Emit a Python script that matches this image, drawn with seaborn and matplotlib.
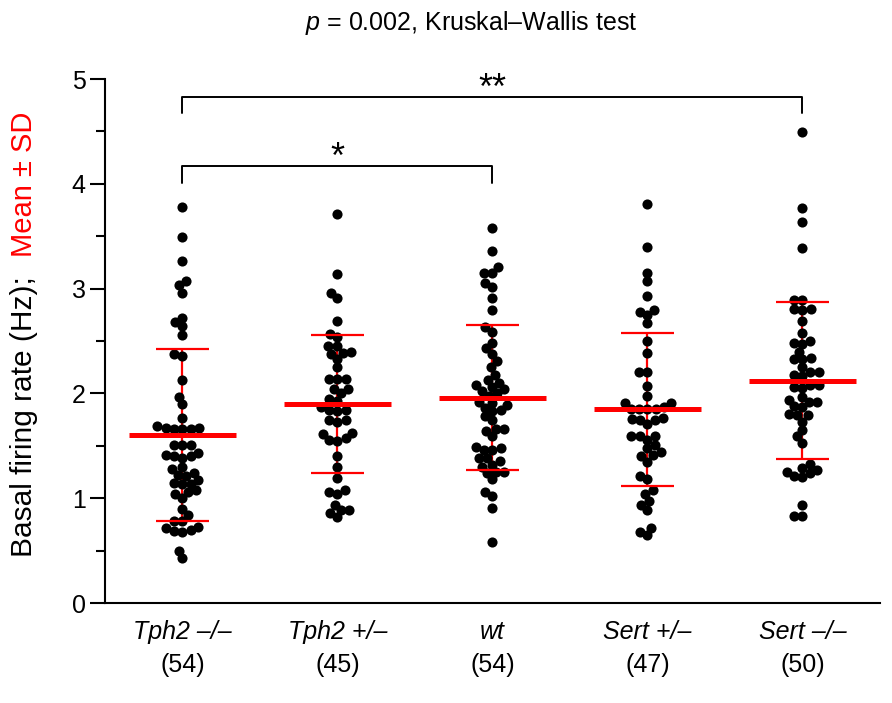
import numpy as np
import pandas as pd
import seaborn as sns
import matplotlib.pyplot as plt

# group names and cell counts
genotypes = ["Tph2 –/–", "Tph2 +/–", "wt", "Sert +/–", "Sert –/–"]
counts = [54, 45, 54, 47, 50]

# basal firing rates (Hz)
tph2_ko = [3.78, 3.49, 3.26, 3.07, 3.03, 2.96, 2.72, 2.68, 2.64, 2.56, 2.38, 2.36, 2.13,
           1.97, 1.90, 1.77, 1.69, 1.67, 1.67, 1.66, 1.66, 1.66, 1.51, 1.51, 1.51, 1.43,
           1.41, 1.40, 1.40, 1.38, 1.30, 1.28, 1.24, 1.22, 1.21, 1.17, 1.15, 1.14, 1.14,
           1.08, 1.06, 1.04, 1.00, 0.90, 0.84, 0.78, 0.78, 0.73, 0.72, 0.70, 0.69, 0.68,
           0.50, 0.43]
tph2_het = [3.71, 3.14, 2.96, 2.91, 2.69, 2.57, 2.54, 2.45, 2.45, 2.40, 2.39, 2.38, 2.33,
            2.25, 2.14, 2.14, 2.14, 2.04, 2.04, 2.00, 1.95, 1.93, 1.87, 1.84, 1.84, 1.83,
            1.75, 1.75, 1.73, 1.62, 1.61, 1.57, 1.56, 1.55, 1.40, 1.30, 1.19, 1.08, 1.06,
            1.04, 0.94, 0.89, 0.89, 0.86, 0.82]
wild_type = [3.58, 3.36, 3.21, 3.15, 3.15, 3.05, 3.02, 2.91, 2.80, 2.63, 2.59, 2.48, 2.43,
             2.38, 2.31, 2.25, 2.18, 2.13, 2.10, 2.08, 2.06, 2.04, 2.02, 2.00, 1.98, 1.92,
             1.91, 1.89, 1.86, 1.84, 1.83, 1.78, 1.75, 1.66, 1.66, 1.64, 1.59, 1.49, 1.48,
             1.46, 1.46, 1.38, 1.36, 1.38, 1.32, 1.30, 1.25, 1.24, 1.25, 1.18, 1.06, 1.02,
             0.91, 0.58]
sert_het = [3.81, 3.40, 3.15, 3.07, 2.93, 2.80, 2.78, 2.75, 2.67, 2.50, 2.39, 2.20, 2.20,
            2.07, 1.98, 1.91, 1.91, 1.87, 1.85, 1.85, 1.85, 1.85, 1.77, 1.76, 1.75, 1.75,
            1.71, 1.59, 1.56, 1.59, 1.59, 1.51, 1.48, 1.44, 1.41, 1.40, 1.35, 1.21, 1.18,
            1.08, 1.04, 0.97, 0.94, 0.89, 0.72, 0.68, 0.65]
sert_ko = [4.49, 3.77, 3.64, 3.39, 2.89, 2.89, 2.81, 2.80, 2.81, 2.69, 2.58, 2.50, 2.47,
           2.48, 2.40, 2.33, 2.34, 2.33, 2.25, 2.20, 2.18, 2.17, 2.20, 2.08, 2.06, 2.05,
           2.08, 1.97, 1.92, 1.92, 1.94, 1.88, 1.87, 1.80, 1.79, 1.79, 1.73, 1.65, 1.59,
           1.53, 1.33, 1.27, 1.24, 1.29, 1.20, 1.21, 1.25, 0.94, 0.83, 0.83]

# mean and SD per group
means = [1.60, 1.90, 1.96, 1.85, 2.12]
sds = [0.82, 0.66, 0.69, 0.73, 0.75]

groups = [tph2_ko, tph2_het, wild_type, sert_het, sert_ko]
df = pd.DataFrame({
    "genotype": np.repeat(genotypes, [len(g) for g in groups]),
    "rate": np.concatenate(groups),
})

sns.set_style("ticks")
plt.rcParams["font.family"] = ["Liberation Sans", "DejaVu Sans"]
plt.rcParams["mathtext.fontset"] = "custom"
plt.rcParams["mathtext.it"] = "Liberation Sans:italic"
plt.rcParams["mathtext.rm"] = "Liberation Sans"
for key in ["text.color", "axes.labelcolor", "xtick.color", "ytick.color", "axes.edgecolor"]:
    plt.rcParams[key] = "black"

fig = plt.figure(figsize=(8.92, 7.03), dpi=100)
ax = fig.add_axes([0.1177, 0.1422, 0.8688, 0.7454])

x = np.arange(len(genotypes))
ax.vlines(x, np.subtract(means, sds), np.add(means, sds), color="red", lw=1.6, zorder=1)

ax.set_xlim(-0.5, 4.5)
ax.set_ylim(0, 5)

# lay the swarm out a bit tighter than the drawn dots so they overlap like the original
sns.swarmplot(data=df, x="genotype", y="rate", order=genotypes, color="black",
              size=5.8, ax=ax, zorder=2)
ax.set_xlim(-0.5, 4.5)
ax.set_ylim(0, 5)
fig.canvas.draw()
for coll in ax.collections[1:]:
    if "draw" in coll.__dict__:
        del coll.draw  # keep the positions seaborn just computed
    coll.set_sizes([7.3 ** 2])

ax.hlines(means, x - 0.345, x + 0.345, color="red", lw=3.6, zorder=3)
ax.hlines(np.add(means, sds), x - 0.17, x + 0.17, color="red", lw=1.6, zorder=3)
ax.hlines(np.subtract(means, sds), x - 0.17, x + 0.17, color="red", lw=1.6, zorder=3)

ax.set_yticks([0, 1, 2, 3, 4, 5])
ax.set_yticks(np.arange(0.5, 5, 1), minor=True)
ax.tick_params(axis="y", which="major", length=11, width=1.5, labelsize=18, pad=3)
ax.tick_params(axis="y", which="minor", length=6.5, width=1.5)
ax.tick_params(axis="x", length=0, labelsize=18, pad=12)
ax.set_xticks(x)
ax.set_xticklabels(genotypes, fontstyle="italic")
ax.set_xlabel("")
ax.set_ylabel("")
for side in ["left", "bottom"]:
    ax.spines[side].set_linewidth(1.5)
sns.despine(ax=ax)

for i, n in enumerate(counts):
    ax.annotate(f"({n})", xy=(i, 0), xycoords=("data", "axes fraction"),
                xytext=(0, -49.5), textcoords="offset points",
                ha="center", va="baseline", fontsize=18)

# significance brackets
ax.plot([0, 0, 4, 4], [4.68, 4.83, 4.83, 4.68], color="black", lw=1.4, clip_on=False)
ax.text(2, 4.81, "**", ha="center", va="baseline", fontsize=26)
ax.plot([0, 0, 2, 2], [4.01, 4.17, 4.17, 4.01], color="black", lw=1.4, clip_on=False)
ax.text(1, 4.15, "*", ha="center", va="baseline", fontsize=26)

# y label in two colours
fig.text(32 / 892, (703 - 557) / 703, "Basal firing rate (Hz);", rotation=90,
         rotation_mode="anchor", ha="left", va="baseline", fontsize=21.5)
fig.text(32 / 892, (703 - 112) / 703, "Mean ± SD", rotation=90, color="red",
         rotation_mode="anchor", ha="right", va="baseline", fontsize=21)

fig.text(471.5 / 892, 1 - 30 / 703, r"$\mathit{p}$ = 0.002, Kruskal–Wallis test",
         ha="center", va="baseline", fontsize=18)

fig.savefig("out.png", dpi=100)
